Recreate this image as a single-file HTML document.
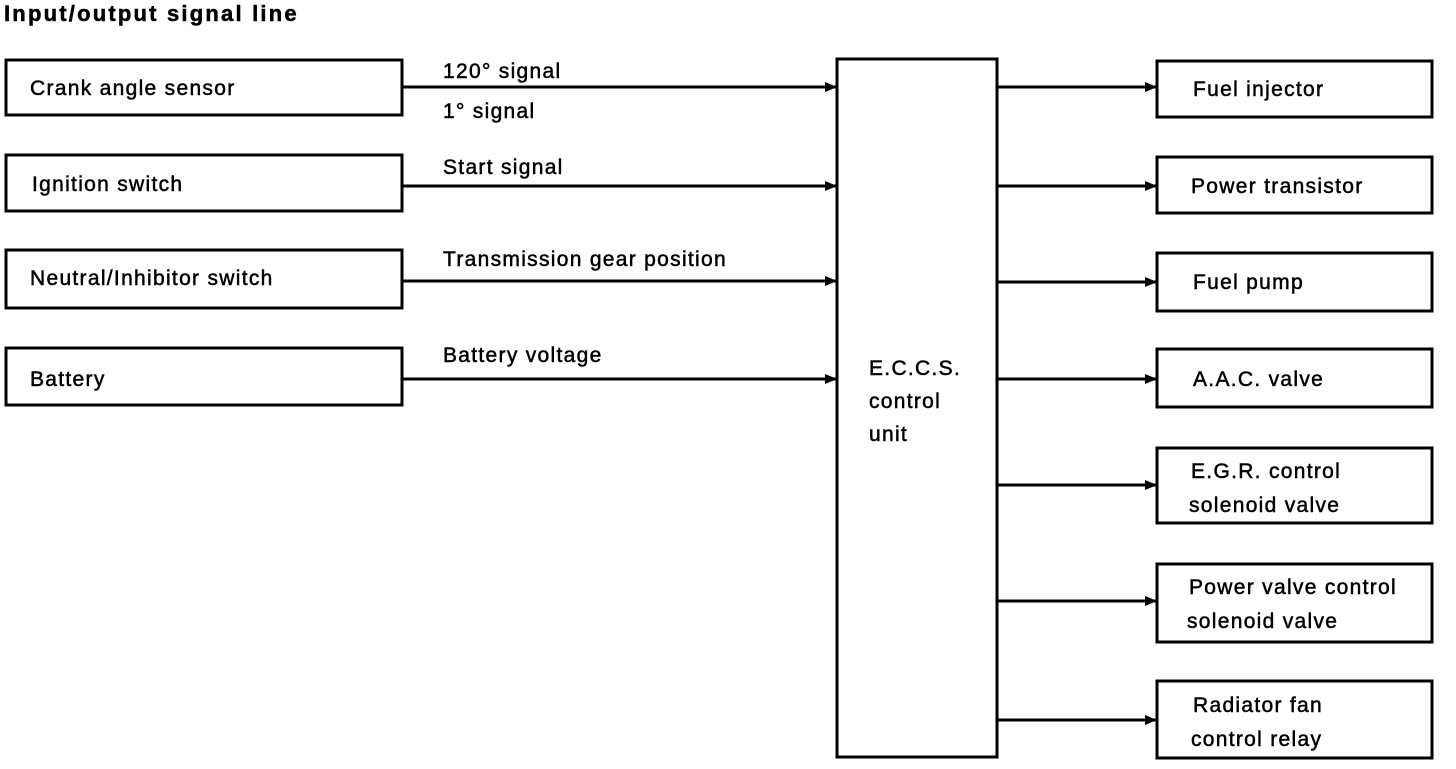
<!DOCTYPE html>
<html><head><style>
body{margin:0;background:#fff;}
svg text{font-family:"Liberation Sans",sans-serif;font-size:21px;fill:#000;letter-spacing:1.3px;stroke:#000;stroke-width:0.5px;}
</style></head><body>
<svg width="1456" height="764" viewBox="0 0 1456 764" xmlns="http://www.w3.org/2000/svg">
<defs><marker id="a" markerWidth="12" markerHeight="10" refX="11" refY="5" orient="auto" markerUnits="userSpaceOnUse"><path d="M0,0 L12,5 L0,10 Z" fill="#000"/></marker></defs>
<text x="4" y="21" font-weight="bold" style="font-size:22px;letter-spacing:2.2px">Input/output  signal  line</text>
<g fill="none" stroke="#000" stroke-width="3">
<rect x="6" y="60" width="396" height="55"/>
<rect x="6" y="155" width="396" height="56"/>
<rect x="6" y="250" width="396" height="58"/>
<rect x="6" y="348" width="396" height="57"/>
<rect x="837" y="59" width="160" height="698"/>
<rect x="1157" y="61" width="275" height="56"/>
<rect x="1157" y="157" width="275" height="56"/>
<rect x="1157" y="253" width="275" height="58"/>
<rect x="1157" y="349" width="275" height="58"/>
<rect x="1157" y="448" width="275" height="75"/>
<rect x="1157" y="564" width="275" height="78"/>
<rect x="1157" y="681" width="275" height="77"/>
</g>
<g stroke="#000" stroke-width="3" marker-end="url(#a)">
<line x1="402" y1="87" x2="836" y2="87"/>
<line x1="402" y1="186" x2="836" y2="186"/>
<line x1="402" y1="281" x2="836" y2="281"/>
<line x1="402" y1="379" x2="836" y2="379"/>
<line x1="997" y1="87" x2="1156" y2="87"/>
<line x1="997" y1="186" x2="1156" y2="186"/>
<line x1="997" y1="282" x2="1156" y2="282"/>
<line x1="997" y1="379" x2="1156" y2="379"/>
<line x1="997" y1="485" x2="1156" y2="485"/>
<line x1="997" y1="601" x2="1156" y2="601"/>
<line x1="997" y1="720" x2="1156" y2="720"/>
</g>
<text x="30" y="95">Crank angle sensor</text>
<text x="32" y="191">Ignition switch</text>
<text x="30" y="285">Neutral/Inhibitor switch</text>
<text x="30" y="386">Battery</text>
<text x="443" y="78">120° signal</text>
<text x="443" y="118">1° signal</text>
<text x="443" y="174">Start signal</text>
<text x="443" y="266">Transmission gear position</text>
<text x="443" y="362">Battery voltage</text>
<text x="869" y="375">E.C.C.S.</text>
<text x="869" y="408">control</text>
<text x="869" y="441">unit</text>
<text x="1193" y="96">Fuel injector</text>
<text x="1191" y="193">Power transistor</text>
<text x="1193" y="289">Fuel pump</text>
<text x="1193" y="386">A.A.C. valve</text>
<text x="1191" y="478">E.G.R. control</text>
<text x="1189" y="512">solenoid valve</text>
<text x="1189" y="594">Power valve control</text>
<text x="1187" y="628">solenoid valve</text>
<text x="1193" y="712">Radiator fan</text>
<text x="1191" y="746">control relay</text>
</svg>
</body></html>
